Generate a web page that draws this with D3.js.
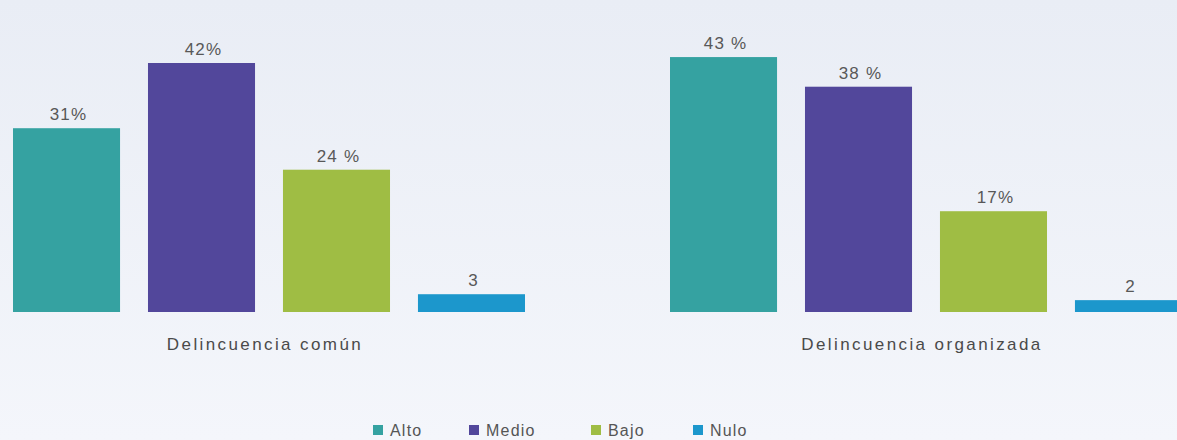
<!DOCTYPE html>
<html><head><meta charset="utf-8">
<script src="https://cdn.jsdelivr.net/npm/d3@7/dist/d3.min.js"></script>
<style>
html,body{margin:0;padding:0;}
body{width:1177px;height:440px;overflow:hidden;background:#eef1f7;}
text{font-family:"Liberation Sans","Noto Sans",sans-serif;}
</style></head>
<body>
<svg id="chart" width="1177" height="440"></svg>
<script>
const groups = ["Delincuencia común", "Delincuencia organizada"];
const seriesNames = ["Alto", "Medio", "Bajo", "Nulo"];
const colors = ["#35a2a1", "#52479b", "#9fbd44", "#1c97cc"];
const valuesComun = [31, 42, 24, 3];
const valuesOrganizada = [43, 38, 17, 2];
const labelsComun = ["31%", "42%", "24 %", "3"];
const labelsOrganizada = ["43 %", "38 %", "17%", "2"];

const svg = d3.select("#chart");
const defs = svg.append("defs");
const grad = defs.append("linearGradient").attr("id","bg").attr("x1",0).attr("y1",0).attr("x2",0).attr("y2",1);
grad.append("stop").attr("offset","0%").attr("stop-color","#e9edf5");
grad.append("stop").attr("offset","100%").attr("stop-color","#f4f6fb");
svg.append("rect").attr("width",1177).attr("height",440).attr("fill","url(#bg)");

const data = groups.map((g,i)=>({group:g, values:(i===0?valuesComun:valuesOrganizada), labels:(i===0?labelsComun:labelsOrganizada)}));

const baseline = 312;
const y = d3.scaleLinear().domain([0, 42]).range([baseline, 63]);
const x0 = d3.scaleBand().domain(groups).range([13, 1182]).paddingInner(0.2207).paddingOuter(0);
const x1 = d3.scaleBand().domain(seriesNames).range([0, x0.bandwidth()]).paddingInner(0.207).paddingOuter(0);

const g = svg.selectAll("g.grp").data(data).join("g").attr("class","grp")
  .attr("transform", d=>`translate(${x0(d.group)},0)`);

g.selectAll("rect").data(d=>d.values.map((v,i)=>({s:seriesNames[i], v, c:colors[i]})))
  .join("rect")
  .attr("x", d=>x1(d.s)).attr("width", x1.bandwidth())
  .attr("y", d=>y(d.v)).attr("height", d=>baseline - y(d.v))
  .attr("fill", d=>d.c);

g.selectAll("text.val").data(d=>d.values.map((v,i)=>({s:seriesNames[i], v, l:d.labels[i]})))
  .join("text").attr("class","val")
  .attr("x", d=>x1(d.s)+x1.bandwidth()/2 + 2)
  .attr("y", d=>y(d.v)-8)
  .attr("text-anchor","middle").attr("font-size",17).attr("letter-spacing","1.2px").attr("fill","#585858")
  .text(d=>d.l);

g.append("text")
  .attr("x", d=>x0.bandwidth()/2 - 4)
  .attr("y", 350)
  .attr("text-anchor","middle").attr("font-size",17).attr("letter-spacing","2.4px").attr("fill","#4a4a4a")
  .text(d=>d.group);

// legend
const legendX = [373, 469, 591, 693];
const leg = svg.selectAll("g.leg").data(seriesNames).join("g").attr("class","leg")
  .attr("transform",(d,i)=>`translate(${legendX[i]},425)`);
leg.append("rect").attr("width",10).attr("height",10).attr("fill",(d,i)=>colors[i]);
leg.append("text").attr("x",17).attr("y",11).attr("font-size",16).attr("letter-spacing","1.2px").attr("fill","#555").text(d=>d);
</script>
</body></html>
